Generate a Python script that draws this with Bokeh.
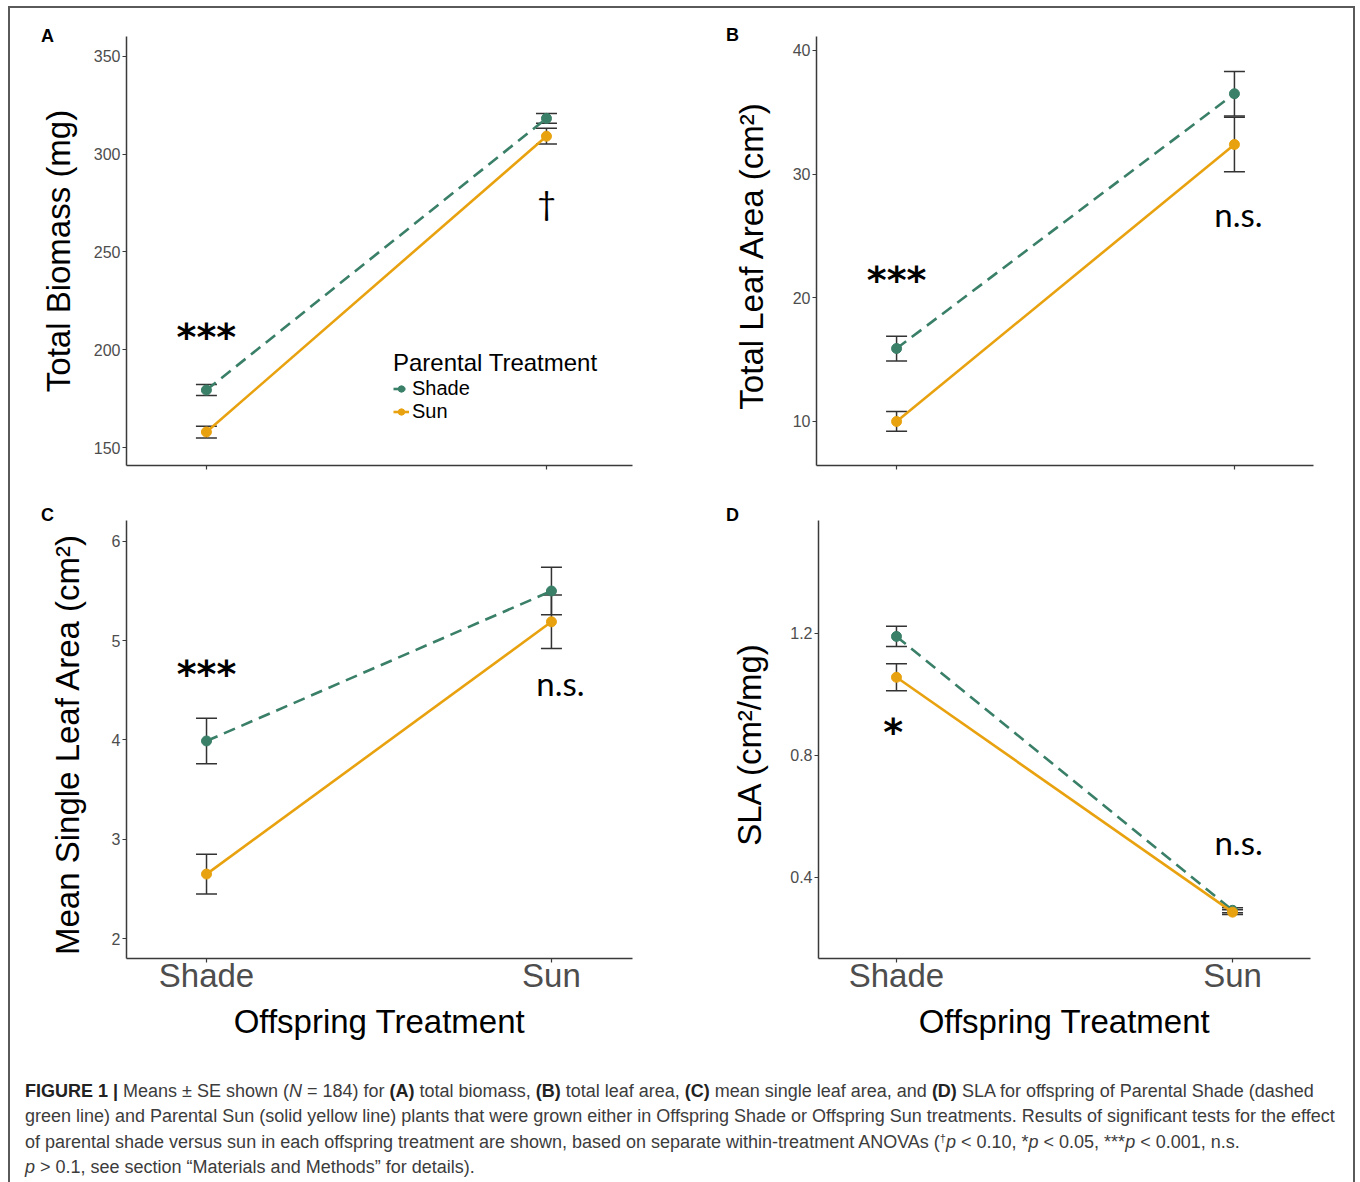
from bokeh.plotting import figure
from bokeh.models import (ColumnDataSource, Range1d, FixedTicker, Whisker, TeeHead,
                          Legend, LegendItem, Label, Div)
from bokeh.layouts import row, column
from bokeh.core.properties import value
from bokeh.embed import file_html
from bokeh.resources import INLINE

# ---------------- data ----------------
categories = ["Shade", "Sun"]          # offspring treatment
series = ["Shade", "Sun"]              # parental treatment

A_shade_mean = [179.5, 318.2]
A_shade_se = [2.8, 2.5]
A_sun_mean = [158.1, 309.1]
A_sun_se = [3.0, 4.0]

B_shade_mean = [15.9, 36.5]
B_shade_se = [1.0, 1.8]
B_sun_mean = [10.0, 32.4]
B_sun_se = [0.8, 2.2]

C_shade_mean = [3.99, 5.50]
C_shade_se = [0.23, 0.24]
C_sun_mean = [2.65, 5.19]
C_sun_se = [0.20, 0.27]

D_shade_mean = [1.19, 0.292]
D_shade_se = [0.033, 0.008]
D_sun_mean = [1.056, 0.286]
D_sun_se = [0.044, 0.008]

A_yticks = [150, 200, 250, 300, 350]
B_yticks = [10, 20, 30, 40]
C_yticks = [2, 3, 4, 5, 6]
D_yticks = [0.4, 0.8, 1.2]

# significance labels: (text, category position, y value)
A_sig = [("***", 1.0, 206.5), ("\u2020", 2.0, 275.5)]
B_sig = [("***", 1.0, 21.4), ("n.s.", 2.012, 26.8)]
C_sig = [("***", 1.0, 4.66), ("n.s.", 2.026, 4.57)]
D_sig = [("*", 0.99, 0.875), ("n.s.", 2.018, 0.515)]

GREEN = "#3A7F67"
ORANGE = "#E9A20F"
AXIS = "#3a3a3a"
TICKLAB = "#4d4d4d"
SANS = "Liberation Sans"

xpos = [i + 1 for i, _ in enumerate(categories)]


def make_panel(letter, letter_off, ylabel, ylab_standoff, shade_m, shade_se, sun_m, sun_se,
               yticks, yr, xr, sig, width, height, mbl, mbr, mbt, mbb, show_xlabels,
               legend=False):
    p = figure(width=width, height=height, output_backend="svg", toolbar_location=None,
               x_range=Range1d(*xr), y_range=Range1d(*yr),
               min_border_left=mbl, min_border_right=mbr,
               min_border_top=mbt, min_border_bottom=mbb)
    p.outline_line_color = None
    p.xgrid.visible = False
    p.ygrid.visible = False
    p.background_fill_color = "white"
    p.border_fill_color = "white"

    for ax in (p.xaxis[0], p.yaxis[0]):
        ax.axis_line_color = AXIS
        ax.axis_line_width = 1.5
        ax.major_tick_line_color = AXIS
        ax.major_tick_line_width = 1.2
        ax.major_tick_in = 0
        ax.major_tick_out = 4
        ax.minor_tick_line_color = None
        ax.major_label_text_color = TICKLAB
        ax.major_label_text_font = SANS
        ax.axis_label_text_font = SANS
        ax.axis_label_text_font_style = "normal"
        ax.axis_label_text_color = "black"

    p.yaxis.ticker = FixedTicker(ticks=yticks)
    p.yaxis.major_label_text_font_size = "16px"
    p.yaxis.major_label_standoff = 2
    p.yaxis.axis_label = ylabel
    p.yaxis.axis_label_text_font_size = "33px"
    p.yaxis.axis_label_standoff = ylab_standoff

    p.xaxis.ticker = FixedTicker(ticks=xpos)
    if show_xlabels:
        p.xaxis.major_label_overrides = {x: c for x, c in zip(xpos, categories)}
        p.xaxis.major_label_text_font_size = "33px"
        p.xaxis.major_label_standoff = -6
        p.xaxis.axis_label = "Offspring Treatment"
        p.xaxis.axis_label_text_font_size = "33px"
        p.xaxis.axis_label_standoff = 6
    else:
        p.xaxis.major_label_overrides = {x: "" for x in xpos}
        p.xaxis.major_label_text_font_size = "1px"

    renderers = {}
    for name, m, se, col, dash in (("Shade", shade_m, shade_se, GREEN, "12 7"),
                                   ("Sun", sun_m, sun_se, ORANGE, "solid")):
        src = ColumnDataSource(dict(x=xpos, y=m,
                                    lower=[a - b for a, b in zip(m, se)],
                                    upper=[a + b for a, b in zip(m, se)]))
        lr = p.line("x", "y", source=src, line_color=col, line_width=2.6, line_dash=dash)
        sr = p.scatter("x", "y", source=src, size=10, fill_color=col, line_color=col)
        renderers[name] = (lr, sr, src)
    for name in ("Shade", "Sun"):
        src = renderers[name][2]
        w = Whisker(base="x", upper="upper", lower="lower", source=src, dimension="height",
                    line_color="#333333", line_width=1.5,
                    upper_head=TeeHead(size=21, line_color="#333333", line_width=1.5),
                    lower_head=TeeHead(size=21, line_color="#333333", line_width=1.5))
        p.add_layout(w)

    ast = [s for s in sig if s[0].startswith("*")]
    oth = [s for s in sig if not s[0].startswith("*")]
    if ast:
        p.text(x=[s[1] for s in ast], y=[s[2] for s in ast], text=[s[0] for s in ast],
               text_font=value("DejaVu Sans"), text_font_style="bold",
               text_font_size="38px", text_color="black",
               text_align="center", text_baseline="middle")
    if oth:
        p.text(x=[s[1] for s in oth], y=[s[2] for s in oth], text=[s[0] for s in oth],
               text_font=value("Lato"), text_font_size="33px", text_color="black",
               text_align="center", text_baseline="middle")

    # panel letter, placed in the 'above' side panel (not clipped by the frame)
    lab = Label(x=letter_off[0], y=letter_off[1], x_units="screen", y_units="screen",
                text=letter, text_font=SANS, text_font_style="bold", text_font_size="18px",
                text_color="black", text_align="center", text_baseline="middle")
    p.add_layout(lab, "above")

    if legend:
        items = [LegendItem(label=n, renderers=[renderers[n][0], renderers[n][1]])
                 for n in series]
        lg = Legend(items=items, title="Parental Treatment", location=(267, 42),
                    title_text_font=SANS, title_text_font_size="24px",
                    title_text_font_style="normal", title_text_color="black",
                    title_standoff=0,
                    label_text_font=SANS, label_text_font_size="20px",
                    label_text_color="black", label_height=17, glyph_height=17,
                    glyph_width=16, label_standoff=3, spacing=0, padding=0, margin=0,
                    border_line_color=None, background_fill_alpha=0)
        p.add_layout(lg)
    return p


pA = make_panel("A", (-79, 1), "Total Biomass (mg)", 14,
                A_shade_mean, A_shade_se, A_sun_mean, A_sun_se,
                A_yticks, (141, 360), (0.765, 2.253), A_sig,
                width=678, height=482, mbl=116, mbr=56, mbt=28, mbb=20,
                show_xlabels=False, legend=True)
pB = make_panel("B", (-84, 2), "Total Leaf Area  (cm\u00b2)", 20,
                B_shade_mean, B_shade_se, B_sun_mean, B_sun_se,
                B_yticks, (6.44, 41.13), (0.763, 2.234), B_sig,
                width=655, height=482, mbl=128, mbr=30, mbt=28, mbb=25,
                show_xlabels=False)
pC = make_panel("C", (-79, 6), "Mean Single Leaf Area  (cm\u00b2)", 23,
                C_shade_mean, C_shade_se, C_sun_mean, C_sun_se,
                C_yticks, (1.80, 6.21), (0.768, 2.235), C_sig,
                width=678, height=560, mbl=116, mbr=56, mbt=30, mbb=92,
                show_xlabels=True)
pD = make_panel("D", (-86, 6), "SLA  (cm\u00b2/mg)", 19,
                D_shade_mean, D_shade_se, D_sun_mean, D_sun_se,
                D_yticks, (0.134, 1.57), (0.768, 2.232), D_sig,
                width=655, height=560, mbl=130, mbr=33, mbt=30, mbb=92,
                show_xlabels=True)

B_ = '<b style="color:#222">'
caption_html = (
    '<div style="font-family: \'Liberation Sans\', Arial, sans-serif; font-size: 18px; '
    'line-height: 25.4px; color: #3c3c3c; padding: 24px 0 0 10px; white-space: nowrap;">'
    + B_ + 'FIGURE 1 |</b> Means \u00b1 SE shown (<i>N</i> = 184) for ' + B_ + '(A)</b> total biomass, '
    + B_ + '(B)</b> total leaf area, ' + B_ + '(C)</b> mean single leaf area, and '
    + B_ + '(D)</b> SLA for offspring of Parental Shade (dashed<br>'
    'green line) and Parental Sun (solid yellow line) plants that were grown either in Offspring Shade or '
    'Offspring Sun treatments. Results of significant tests for the effect<br>'
    'of parental shade versus sun in each offspring treatment are shown, based on separate within-treatment '
    'ANOVAs (<span style="font-size:11px; vertical-align: 6px; line-height:0">\u2020</span><i>p</i> &lt; 0.10, *<i>p</i> &lt; 0.05, ***<i>p</i> &lt; 0.001, n.s.<br>'
    '<i>p</i> &gt; 0.1, see section \u201cMaterials and Methods\u201d for details).'
    '</div>'
)
caption = Div(text=caption_html, width=1333, height=128)

layout = column(row(pA, pB), row(pC, pD), caption,
                styles={"margin": "6px 0 0 8px", "box-sizing": "content-box",
                        "border-top": "2px solid #5a5a5a", "border-left": "2px solid #5a5a5a",
                        "border-right": "2px solid #5a5a5a"})

open("out.html", "w").write(file_html(layout, INLINE))
